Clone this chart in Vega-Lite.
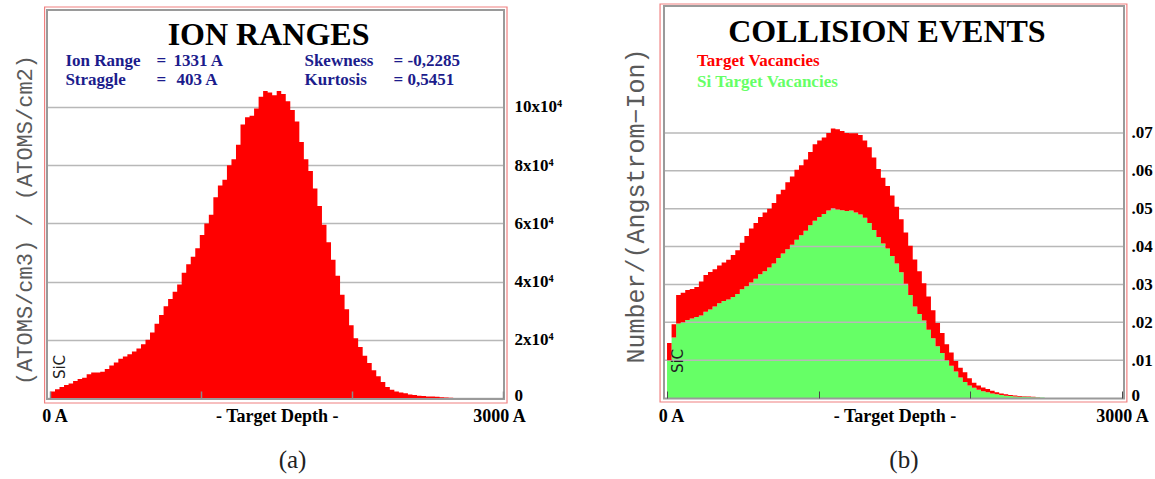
{
  "$schema": "https://vega.github.io/schema/vega-lite/v6.json",
  "background": "white",
  "padding": {"left": 13, "top": 3, "right": 0, "bottom": 0},
  "spacing": 160,
  "bounds": "flush",
  "config": {"view": {"stroke": null}, "font": "Liberation Serif"},
  "datasets": {
    "ions": [
      {"depth":0,"conc":2200},{"depth":30,"conc":3000},{"depth":60,"conc":3800},{"depth":90,"conc":4500},{"depth":120,"conc":5000},{"depth":150,"conc":5800},{"depth":180,"conc":6500},{"depth":210,"conc":7000},{"depth":240,"conc":8200},{"depth":270,"conc":8800},
      {"depth":300,"conc":8800},{"depth":330,"conc":9000},{"depth":360,"conc":10000},{"depth":390,"conc":11200},{"depth":420,"conc":12200},{"depth":450,"conc":13500},{"depth":480,"conc":14300},{"depth":510,"conc":15000},{"depth":540,"conc":16000},{"depth":570,"conc":17000},
      {"depth":600,"conc":18500},{"depth":630,"conc":20000},{"depth":660,"conc":22500},{"depth":690,"conc":25500},{"depth":720,"conc":28500},{"depth":750,"conc":31500},{"depth":780,"conc":34000},{"depth":810,"conc":36500},{"depth":840,"conc":39000},{"depth":870,"conc":43000},
      {"depth":900,"conc":46000},{"depth":930,"conc":48500},{"depth":960,"conc":51500},{"depth":990,"conc":56000},{"depth":1020,"conc":60000},{"depth":1050,"conc":63000},{"depth":1080,"conc":69000},{"depth":1110,"conc":73000},{"depth":1140,"conc":75000},{"depth":1170,"conc":80000},
      {"depth":1200,"conc":82000},{"depth":1230,"conc":87000},{"depth":1260,"conc":94000},{"depth":1290,"conc":96500},{"depth":1320,"conc":97000},{"depth":1350,"conc":99500},{"depth":1380,"conc":103500},{"depth":1410,"conc":105500},{"depth":1440,"conc":105000},{"depth":1470,"conc":104000},
      {"depth":1500,"conc":105500},{"depth":1530,"conc":104500},{"depth":1560,"conc":102000},{"depth":1590,"conc":99000},{"depth":1620,"conc":95000},{"depth":1650,"conc":88000},{"depth":1680,"conc":82000},{"depth":1710,"conc":78000},{"depth":1740,"conc":72000},{"depth":1770,"conc":66000},
      {"depth":1800,"conc":59500},{"depth":1830,"conc":53500},{"depth":1860,"conc":47500},{"depth":1890,"conc":42000},{"depth":1920,"conc":35500},{"depth":1950,"conc":30500},{"depth":1980,"conc":25000},{"depth":2010,"conc":20500},{"depth":2040,"conc":17500},{"depth":2070,"conc":14500},
      {"depth":2100,"conc":12000},{"depth":2130,"conc":9500},{"depth":2160,"conc":7500},{"depth":2190,"conc":5500},{"depth":2220,"conc":3800},{"depth":2250,"conc":2800},{"depth":2280,"conc":2200},{"depth":2310,"conc":1900},{"depth":2340,"conc":1600},{"depth":2370,"conc":1200},
      {"depth":2400,"conc":1000},{"depth":2430,"conc":800},{"depth":2460,"conc":700},{"depth":2490,"conc":500},{"depth":2520,"conc":500},{"depth":2550,"conc":400},{"depth":2580,"conc":300},{"depth":2610,"conc":200},{"depth":2640,"conc":100},{"depth":2670,"conc":0},{"depth":3000,"conc":0}
    ],
    "vac": [
      {"depth":0,"total":0.0145,"si":0.0100},{"depth":30,"total":0.0195,"si":0.0160},{"depth":60,"total":0.0272,"si":0.0197},{"depth":90,"total":0.0278,"si":0.0200},{"depth":120,"total":0.0285,"si":0.0206},{"depth":150,"total":0.0288,"si":0.0210},{"depth":180,"total":0.0293,"si":0.0214},{"depth":210,"total":0.0308,"si":0.0218},{"depth":240,"total":0.0325,"si":0.0228},{"depth":270,"total":0.0333,"si":0.0234},
      {"depth":300,"total":0.0340,"si":0.0242},{"depth":330,"total":0.0350,"si":0.0250},{"depth":360,"total":0.0358,"si":0.0256},{"depth":390,"total":0.0365,"si":0.0260},{"depth":420,"total":0.0378,"si":0.0267},{"depth":450,"total":0.0390,"si":0.0275},{"depth":480,"total":0.0410,"si":0.0287},{"depth":510,"total":0.0428,"si":0.0295},{"depth":540,"total":0.0448,"si":0.0305},{"depth":570,"total":0.0462,"si":0.0315},
      {"depth":600,"total":0.0478,"si":0.0327},{"depth":630,"total":0.0490,"si":0.0335},{"depth":660,"total":0.0500,"si":0.0345},{"depth":690,"total":0.0515,"si":0.0355},{"depth":720,"total":0.0538,"si":0.0370},{"depth":750,"total":0.0550,"si":0.0382},{"depth":780,"total":0.0570,"si":0.0393},{"depth":810,"total":0.0585,"si":0.0405},{"depth":840,"total":0.0603,"si":0.0418},{"depth":870,"total":0.0615,"si":0.0430},
      {"depth":900,"total":0.0630,"si":0.0442},{"depth":930,"total":0.0650,"si":0.0456},{"depth":960,"total":0.0670,"si":0.0468},{"depth":990,"total":0.0680,"si":0.0478},{"depth":1020,"total":0.0688,"si":0.0486},{"depth":1050,"total":0.0700,"si":0.0495},{"depth":1080,"total":0.0712,"si":0.0501},{"depth":1110,"total":0.0710,"si":0.0498},{"depth":1140,"total":0.0705,"si":0.0496},{"depth":1170,"total":0.0700,"si":0.0494},
      {"depth":1200,"total":0.0699,"si":0.0495},{"depth":1230,"total":0.0699,"si":0.0490},{"depth":1260,"total":0.0695,"si":0.0485},{"depth":1290,"total":0.0680,"si":0.0476},{"depth":1320,"total":0.0662,"si":0.0462},{"depth":1350,"total":0.0635,"si":0.0444},{"depth":1380,"total":0.0605,"si":0.0425},{"depth":1410,"total":0.0582,"si":0.0408},{"depth":1440,"total":0.0560,"si":0.0395},{"depth":1470,"total":0.0535,"si":0.0375},
      {"depth":1500,"total":0.0505,"si":0.0355},{"depth":1530,"total":0.0472,"si":0.0332},{"depth":1560,"total":0.0437,"si":0.0302},{"depth":1590,"total":0.0402,"si":0.0272},{"depth":1620,"total":0.0366,"si":0.0242},{"depth":1650,"total":0.0335,"si":0.0222},{"depth":1680,"total":0.0303,"si":0.0205},{"depth":1710,"total":0.0268,"si":0.0180},{"depth":1740,"total":0.0232,"si":0.0158},{"depth":1770,"total":0.0198,"si":0.0137},
      {"depth":1800,"total":0.0172,"si":0.0119},{"depth":1830,"total":0.0142,"si":0.0100},{"depth":1860,"total":0.0120,"si":0.0085},{"depth":1890,"total":0.0098,"si":0.0070},{"depth":1920,"total":0.0080,"si":0.0054},{"depth":1950,"total":0.0068,"si":0.0042},{"depth":1980,"total":0.0052,"si":0.0033},{"depth":2010,"total":0.0040,"si":0.0027},{"depth":2040,"total":0.0033,"si":0.0022},{"depth":2070,"total":0.0028,"si":0.0018},
      {"depth":2100,"total":0.0024,"si":0.0015},{"depth":2130,"total":0.0019,"si":0.0012},{"depth":2160,"total":0.0015,"si":0.0010},{"depth":2190,"total":0.0012,"si":0.0008},{"depth":2220,"total":0.0010,"si":0.0006},{"depth":2250,"total":0.0008,"si":0.0005},{"depth":2280,"total":0.00065,"si":0.0004},{"depth":2310,"total":0.00055,"si":0.0003},{"depth":2340,"total":0.00045,"si":0.0003},{"depth":2370,"total":0.0004,"si":0.00025},
      {"depth":2400,"total":0.0003,"si":0.0002},{"depth":2430,"total":0.0002,"si":0.00015},{"depth":2460,"total":0.0001,"si":0.0001},{"depth":2490,"total":0,"si":0},{"depth":3000,"total":0,"si":0}
    ],
    "gridb": [{"v":0.01},{"v":0.02},{"v":0.03},{"v":0.04},{"v":0.05},{"v":0.06},{"v":0.07}]
  },
  "hconcat": [
    {
      "width": 457,
      "height": 392,
      "layer": [
        {
          "data": {"name": "ions"},
          "mark": {"type": "area", "interpolate": "step-after", "color": "#ff0000"},
          "encoding": {
            "x": {"field": "depth", "type": "quantitative",
              "scale": {"domain": [-23, 3007], "nice": false, "zero": false},
              "axis": {"values": [0, 1000, 1500, 2000, 3000],
                "labelExpr": "datum.value === 0 ? '0 A' : datum.value === 1500 ? '- Target Depth -' : datum.value === 3000 ? '3000 A' : ''",
                "title": null, "domain": false, "grid": false, "tickSize": -7, "tickColor": "#8a8a8a", "tickWidth": 1.5,
                "tickOpacity": {"condition": {"test": "datum.value === 1500", "value": 0}, "value": 1},
                "labelOffset": {"condition": [{"test": "datum.value === 0", "value": 4}, {"test": "datum.value === 3000", "value": -4}], "value": 0},
                "labelFont": "Liberation Serif", "labelFontWeight": "bold", "labelFontSize": 18, "labelColor": "#000000",
                "labelPadding": 16, "labelAngle": 0, "labelFlush": false, "labelOverlap": false, "labelBound": false, "zindex": 1}},
            "y": {"field": "conc", "type": "quantitative",
              "scale": {"domain": [0, 134700], "nice": false, "zero": false},
              "axis": {"orient": "right", "values": [0, 20000, 40000, 60000, 80000, 100000],
                "labelExpr": "datum.value === 0 ? '0' : (datum.value / 10000) + 'x10⁴'",
                "title": null, "domain": false, "ticks": false, "grid": true, "gridColor": "#b8b8b8", "gridWidth": 1.5,
                "labelOffset": {"condition": {"test": "datum.value === 0", "value": -3}, "value": 0},
                "labelFont": "Liberation Serif", "labelFontWeight": "bold", "labelFontSize": 17, "labelColor": "#000000",
                "labelPadding": 10, "labelAlign": "left", "labelBaseline": "middle", "labelFlush": false, "labelOverlap": false, "labelBound": false}}
          }
        },
        {
          "data": {"values": [{}]},
          "mark": {"type": "rect", "filled": false, "color": "#9a9a9a", "strokeWidth": 2},
          "encoding": {
            "x": {"datum": -23, "type": "quantitative"}, "x2": {"datum": 3007},
            "y": {"datum": -344, "type": "quantitative"}, "y2": {"datum": 133333}
          }
        },
        {
          "data": {"values": [{}]},
          "mark": {"type": "rect", "filled": false, "color": "#f08080", "strokeWidth": 1.2},
          "encoding": {
            "x": {"datum": -39, "type": "quantitative"}, "x2": {"datum": 3027},
            "y": {"datum": -1718, "type": "quantitative"}, "y2": {"datum": 134364}
          }
        },
        {
          "data": {"values": [{}]},
          "mark": {"type": "text", "text": "ION RANGES", "font": "Liberation Serif", "fontWeight": "bold", "fontSize": 32, "color": "#000000", "align": "center", "baseline": "alphabetic"},
          "encoding": {"x": {"datum": 1446, "type": "quantitative"}, "y": {"datum": 121290, "type": "quantitative"}}
        },
        {
          "data": {"values": [{}]},
          "mark": {"type": "text", "text": ["Ion Range", "Straggle"], "lineHeight": 19, "font": "Liberation Serif", "fontWeight": "bold", "fontSize": 17, "color": "#1c1c8c", "align": "left", "baseline": "alphabetic"},
          "encoding": {"x": {"datum": 99, "type": "quantitative"}, "y": {"datum": 114075, "type": "quantitative"}}
        },
        {
          "data": {"values": [{}]},
          "mark": {"type": "text", "text": ["=", "="], "lineHeight": 19, "font": "Liberation Serif", "fontWeight": "bold", "fontSize": 17, "color": "#1c1c8c", "align": "left", "baseline": "alphabetic"},
          "encoding": {"x": {"datum": 703, "type": "quantitative"}, "y": {"datum": 114075, "type": "quantitative"}}
        },
        {
          "data": {"values": [{}]},
          "mark": {"type": "text", "text": "1331 A", "font": "Liberation Serif", "fontWeight": "bold", "fontSize": 17, "color": "#1c1c8c", "align": "left", "baseline": "alphabetic"},
          "encoding": {"x": {"datum": 816, "type": "quantitative"}, "y": {"datum": 114075, "type": "quantitative"}}
        },
        {
          "data": {"values": [{}]},
          "mark": {"type": "text", "text": "403 A", "font": "Liberation Serif", "fontWeight": "bold", "fontSize": 17, "color": "#1c1c8c", "align": "left", "baseline": "alphabetic"},
          "encoding": {"x": {"datum": 836, "type": "quantitative"}, "y": {"datum": 107547, "type": "quantitative"}}
        },
        {
          "data": {"values": [{}]},
          "mark": {"type": "text", "text": ["Skewness", "Kurtosis"], "lineHeight": 19, "font": "Liberation Serif", "fontWeight": "bold", "fontSize": 17, "color": "#1c1c8c", "align": "left", "baseline": "alphabetic"},
          "encoding": {"x": {"datum": 1684, "type": "quantitative"}, "y": {"datum": 114075, "type": "quantitative"}}
        },
        {
          "data": {"values": [{}]},
          "mark": {"type": "text", "text": ["= -0,2285", "= 0,5451"], "lineHeight": 19, "font": "Liberation Serif", "fontWeight": "bold", "fontSize": 17, "color": "#1c1c8c", "align": "left", "baseline": "alphabetic"},
          "encoding": {"x": {"datum": 2275, "type": "quantitative"}, "y": {"datum": 114075, "type": "quantitative"}}
        },
        {
          "data": {"values": [{}]},
          "mark": {"type": "text", "text": "SiC", "font": "DejaVu Sans", "fontSize": 15, "color": "#222222", "angle": 270, "align": "center", "baseline": "middle"},
          "encoding": {"x": {"datum": 66, "type": "quantitative"}, "y": {"datum": 10650, "type": "quantitative"}}
        },
        {
          "data": {"values": [{}]},
          "mark": {"type": "text", "text": "(ATOMS/cm3) / (ATOMS/cm2)", "font": "Liberation Mono", "fontSize": 22, "color": "#5a5a5a", "angle": 270, "align": "center", "baseline": "middle"},
          "encoding": {"x": {"datum": -172, "type": "quantitative"}, "y": {"datum": 61160, "type": "quantitative"}}
        },
        {
          "data": {"values": [{}]},
          "mark": {"type": "text", "text": "(a)", "font": "Liberation Serif", "fontSize": 25, "color": "#222222", "align": "center", "baseline": "middle"},
          "encoding": {"x": {"datum": 1605, "type": "quantitative"}, "y": {"datum": -21303, "type": "quantitative"}}
        }
      ]
    },
    {
      "width": 460,
      "height": 392,
      "layer": [
        {
          "data": {"name": "vac"},
          "mark": {"type": "area", "interpolate": "step-after", "color": "#66ff66"},
          "encoding": {
            "x": {"field": "depth", "type": "quantitative",
              "scale": {"domain": [-20, 3013], "nice": false, "zero": false},
              "axis": {"values": [0, 1000, 1500, 2000, 3000],
                "labelExpr": "datum.value === 0 ? '0 A' : datum.value === 1500 ? '- Target Depth -' : datum.value === 3000 ? '3000 A' : ''",
                "title": null, "domain": false, "grid": false, "tickSize": -7, "tickColor": "#4a4a4a", "tickWidth": 1,
                "tickOpacity": {"condition": {"test": "datum.value === 1500", "value": 0}, "value": 1},
                "labelOffset": {"condition": {"test": "datum.value === 0", "value": 4}, "value": 0},
                "labelFont": "Liberation Serif", "labelFontWeight": "bold", "labelFontSize": 18, "labelColor": "#000000",
                "labelPadding": 16, "labelAngle": 0, "labelFlush": false, "labelOverlap": false, "labelBound": false, "zindex": 1}},
            "y": {"field": "si", "type": "quantitative",
              "scale": {"domain": [0, 0.10354], "nice": false, "zero": false},
              "axis": {"orient": "right", "values": [0, 0.01, 0.02, 0.03, 0.04, 0.05, 0.06, 0.07],
                "labelExpr": "datum.value === 0 ? '0' : replace(format(datum.value, '.2f'), '0.', '.')",
                "title": null, "domain": false, "ticks": false, "grid": false,
                "labelOffset": {"condition": {"test": "datum.value === 0", "value": -3}, "value": 0},
                "labelFont": "Liberation Serif", "labelFontWeight": "bold", "labelFontSize": 17, "labelColor": "#000000",
                "labelPadding": 7, "labelAlign": "left", "labelBaseline": "middle", "labelFlush": false, "labelOverlap": false, "labelBound": false}}
          }
        },
        {
          "data": {"name": "gridb"},
          "mark": {"type": "rule", "color": "#b8b8b8", "strokeWidth": 1.5},
          "encoding": {"y": {"field": "v", "type": "quantitative"}}
        },
        {
          "data": {"name": "vac"},
          "mark": {"type": "area", "interpolate": "step-after", "color": "#ff0000"},
          "encoding": {
            "x": {"field": "depth", "type": "quantitative"},
            "y": {"field": "total", "type": "quantitative"},
            "y2": {"field": "si"}
          }
        },
        {
          "data": {"values": [{}]},
          "mark": {"type": "rect", "filled": false, "color": "#9a9a9a", "strokeWidth": 2},
          "encoding": {
            "x": {"datum": -20, "type": "quantitative"}, "x2": {"datum": 3013},
            "y": {"datum": -0.00013, "type": "quantitative"}, "y2": {"datum": 0.10354}
          }
        },
        {
          "data": {"values": [{}]},
          "mark": {"type": "rect", "filled": false, "color": "#f08080", "strokeWidth": 1.2},
          "encoding": {
            "x": {"datum": -46, "type": "quantitative"}, "x2": {"datum": 3032},
            "y": {"datum": -0.00106, "type": "quantitative"}, "y2": {"datum": 0.10407}
          }
        },
        {
          "data": {"values": [{}]},
          "mark": {"type": "text", "text": "COLLISION EVENTS", "font": "Liberation Serif", "fontWeight": "bold", "fontSize": 32, "color": "#000000", "align": "center", "baseline": "alphabetic"},
          "encoding": {"x": {"datum": 1450, "type": "quantitative"}, "y": {"datum": 0.09403, "type": "quantitative"}}
        },
        {
          "data": {"values": [{}]},
          "mark": {"type": "text", "text": "Target Vacancies", "font": "Liberation Serif", "fontWeight": "bold", "fontSize": 17, "color": "#ff0000", "align": "left", "baseline": "alphabetic"},
          "encoding": {"x": {"datum": 198, "type": "quantitative"}, "y": {"datum": 0.08769, "type": "quantitative"}}
        },
        {
          "data": {"values": [{}]},
          "mark": {"type": "text", "text": "Si Target Vacancies", "font": "Liberation Serif", "fontWeight": "bold", "fontSize": 17, "color": "#66ff66", "align": "left", "baseline": "alphabetic"},
          "encoding": {"x": {"datum": 198, "type": "quantitative"}, "y": {"datum": 0.08214, "type": "quantitative"}}
        },
        {
          "data": {"values": [{}]},
          "mark": {"type": "text", "text": "SiC", "font": "DejaVu Sans", "fontSize": 15, "color": "#222222", "angle": 270, "align": "center", "baseline": "middle"},
          "encoding": {"x": {"datum": 73, "type": "quantitative"}, "y": {"datum": 0.00977, "type": "quantitative"}}
        },
        {
          "data": {"values": [{}]},
          "mark": {"type": "text", "text": "Number/(Angstrom−Ion)", "font": "Liberation Mono", "fontSize": 25, "color": "#5a5a5a", "angle": 270, "align": "center", "baseline": "middle"},
          "encoding": {"x": {"datum": -204, "type": "quantitative"}, "y": {"datum": 0.05071, "type": "quantitative"}}
        },
        {
          "data": {"values": [{}]},
          "mark": {"type": "text", "text": "(b)", "font": "Liberation Serif", "fontSize": 25, "color": "#222222", "align": "center", "baseline": "middle"},
          "encoding": {"x": {"datum": 1562, "type": "quantitative"}, "y": {"datum": -0.01638, "type": "quantitative"}}
        }
      ]
    }
  ]
}
